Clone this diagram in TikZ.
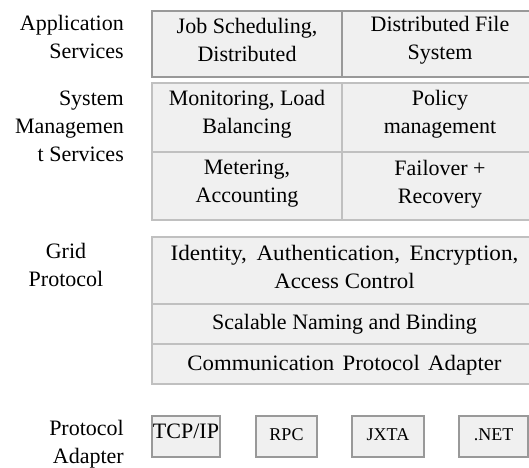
\documentclass[tikz,border=0pt]{standalone}
\usepackage{graphicx}
\usepackage{fontspec}
\setmainfont{Liberation Serif}
\definecolor{cellfill}{HTML}{F0F0F0}
\definecolor{darkedge}{HTML}{999999}
\definecolor{lightedge}{HTML}{C0C0C0}
\tikzset{
  txt/.style={font=\fontsize{22}{28}\selectfont, inner sep=0pt, align=center},
  smalltxt/.style={font=\fontsize{18}{22}\selectfont, inner sep=0pt, align=center},
  cell/.style={fill=cellfill, line width=2pt, inner sep=0pt, anchor=center},
  darkcell/.style={cell, draw=darkedge},
  lightcell/.style={cell, draw=lightedge},
  lbl/.style={font=\fontsize{22}{28}\selectfont, inner sep=0pt}
}
\begin{document}
\begin{tikzpicture}[x=1pt,y=-1pt]
\useasboundingbox (0,0) rectangle (529,467);
\clip (0,0) rectangle (529,467);
% Application services
\node[darkcell, minimum width=190pt, minimum height=66pt] (job) at (247,44) {};
\node[darkcell, minimum width=196pt, minimum height=66pt] (dfs) at (440,44) {};
\node[txt] (jobt) at (job.center) [yshift=4pt] {Job Scheduling,\\Distributed};
\node[txt] (dfst) at (dfs.center) [yshift=4pt] {Distributed File\\System};
% System management
\node[lightcell, minimum width=190pt, minimum height=69pt] (mon) at (247,117.5) {};
\node[lightcell, minimum width=196pt, minimum height=69pt] (pol) at (440,117.5) {};
\node[lightcell, minimum width=190pt, minimum height=68pt] (met) at (247,186) {};
\node[lightcell, minimum width=196pt, minimum height=68pt] (fail) at (440,186) {};
\node[txt] (mont) at (247,114) {Monitoring, Load\\Balancing};
\node[txt] (polt) at (440,114) {Policy\\management};
\node[txt] (mett) at (247,184) {Metering,\\Accounting};
\node[txt] (failt) at (440,184) {Failover +\\Recovery};
% Grid protocol
\node[lightcell, minimum width=385pt, minimum height=67pt] (ident) at (344.5,270.5) {};
\node[lightcell, minimum width=385pt, minimum height=40pt] (naming) at (344.5,324) {};
\node[lightcell, minimum width=385pt, minimum height=40pt] (comm) at (344.5,364) {};
\node[txt] (identt) at (344.5,267) {\scalebox{1.054}[1]{Identity,\hspace{9pt}Authentication,\hspace{9pt}Encryption,}\\\scalebox{1.04}[1]{Access Control}};
\node[txt] (namingt) at (344.5,324) {Scalable Naming and Binding};
\node[txt] (commt) at (344.5,365) {\scalebox{1.036}[1]{Communication\hspace{8pt}Protocol\hspace{8pt}Adapter}};
% Protocol adapters
\node[darkcell, minimum width=68pt, minimum height=41pt] (tcp) at (186,436.5) {};
\node[darkcell, minimum width=61pt, minimum height=41pt] (rpc) at (286.5,436.5) {};
\node[darkcell, minimum width=72pt, minimum height=41pt] (jxta) at (388,436.5) {};
\node[darkcell, minimum width=69pt, minimum height=41pt] (net) at (493.5,436.5) {};
\node[txt] (tcpt) at (186,431) {TCP/IP};
\node[smalltxt] (rpct) at (286.5,435) {RPC};
\node[smalltxt] (jxtat) at (388,435) {JXTA};
\node[smalltxt] (nett) at (493.5,435) {.NET};
% Labels
\node[lbl, anchor=east, align=right] (lapp) at (124,37) {Application\\Services};
\node[lbl, anchor=east, align=right] (lsys) at (124,126) {System\\Managemen\\t Services};
\node[lbl, align=center] (lgrid) at (66,265) {Grid\\Protocol};
\node[lbl, anchor=east, align=right] (lpa) at (124,444) {Protocol\\Adapter};
\end{tikzpicture}
\end{document}
